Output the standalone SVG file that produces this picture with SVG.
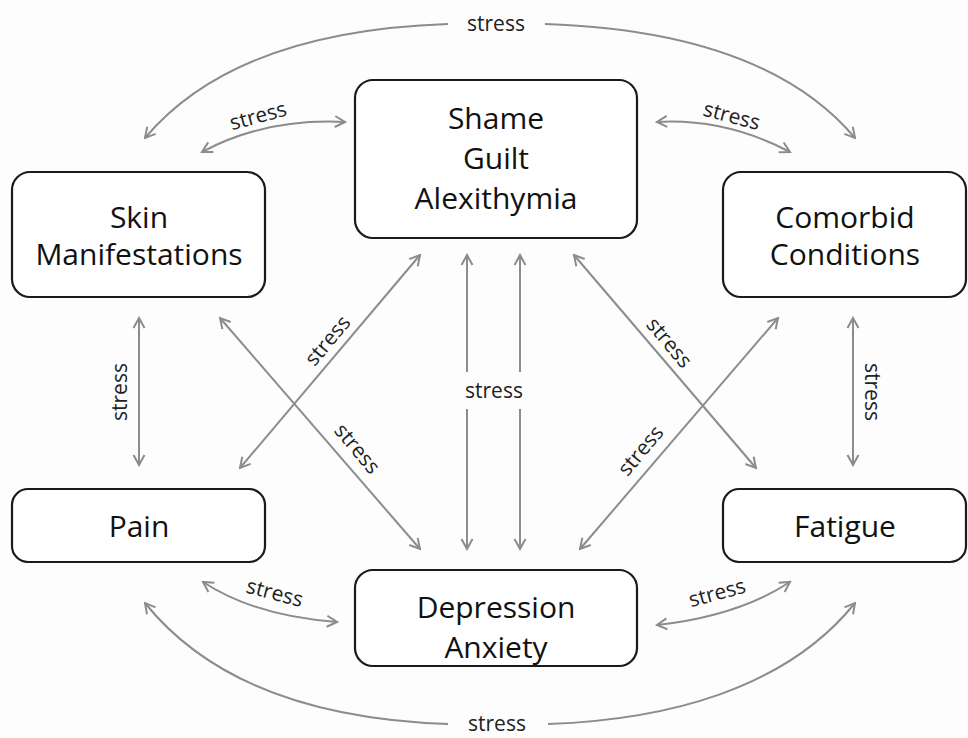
<svg xmlns="http://www.w3.org/2000/svg" width="968" height="738" viewBox="0 0 968 738">
<defs>
<style>
.box{fill:#ffffff;stroke:#1a1a1a;stroke-width:2.2}
.t{font-family:"Open Sans","Liberation Sans",sans-serif;font-size:30px;fill:#111;text-anchor:middle}
.c{fill:none;stroke:#8c8c8c;stroke-width:2}
.l{font-family:"Open Sans","Liberation Sans",sans-serif;font-size:21px;fill:#222;text-anchor:middle;dominant-baseline:central}
</style>
<marker id="ah" viewBox="0 0 14 14" refX="12" refY="7" markerWidth="14" markerHeight="14" markerUnits="userSpaceOnUse" orient="auto-start-reverse">
<path d="M2,1.5 L12,7 L2,12.5" fill="none" stroke="#8c8c8c" stroke-width="2"/>
</marker>
</defs>
<rect width="968" height="738" fill="#fdfdfd"/>
<g id="connectors">
<path class="c" d="M145,138 C215,55 330,28 448,24" marker-start="url(#ah)"/>
<path class="c" d="M545,24 C665,28 785,55 855,138" marker-end="url(#ah)"/>
<text class="l" x="496" y="23">stress</text>
<path class="c" d="M145,603 C215,690 330,720 448,724" marker-start="url(#ah)"/>
<path class="c" d="M548,724 C665,720 785,690 855,603" marker-end="url(#ah)"/>
<text class="l" x="497" y="723">stress</text>
<path class="c" d="M202,152 Q265,118 345,122" marker-start="url(#ah)" marker-end="url(#ah)"/>
<text class="l" x="258" y="115" transform="rotate(-15 258 115)">stress</text>
<path class="c" d="M657,122 Q725,118 790,152" marker-start="url(#ah)" marker-end="url(#ah)"/>
<text class="l" x="732" y="115" transform="rotate(15 732 115)">stress</text>
<path class="c" d="M203,582 Q255,616 337,622" marker-start="url(#ah)" marker-end="url(#ah)"/>
<text class="l" x="275" y="592" transform="rotate(15 275 592)">stress</text>
<path class="c" d="M657,625 Q738,616 790,582" marker-start="url(#ah)" marker-end="url(#ah)"/>
<text class="l" x="717" y="592" transform="rotate(-15 717 592)">stress</text>
<line class="c" x1="139" y1="318" x2="139" y2="465" marker-start="url(#ah)" marker-end="url(#ah)"/>
<text class="l" x="119" y="392" transform="rotate(-90 119 392)">stress</text>
<line class="c" x1="853" y1="318" x2="853" y2="465" marker-start="url(#ah)" marker-end="url(#ah)"/>
<text class="l" x="873" y="392" transform="rotate(90 873 392)">stress</text>
<line class="c" x1="467" y1="255" x2="467" y2="372" marker-start="url(#ah)"/>
<line class="c" x1="467" y1="409" x2="467" y2="549" marker-end="url(#ah)"/>
<line class="c" x1="520" y1="255" x2="520" y2="372" marker-start="url(#ah)"/>
<line class="c" x1="520" y1="409" x2="520" y2="549" marker-end="url(#ah)"/>
<text class="l" x="494" y="390">stress</text>
<line class="c" x1="420" y1="255" x2="240" y2="468" marker-start="url(#ah)" marker-end="url(#ah)"/>
<text class="l" x="327" y="340" transform="rotate(-50 327 340)">stress</text>
<line class="c" x1="220" y1="318" x2="420" y2="549" marker-start="url(#ah)" marker-end="url(#ah)"/>
<text class="l" x="358" y="448" transform="rotate(50 358 448)">stress</text>
<line class="c" x1="574" y1="255" x2="756" y2="468" marker-start="url(#ah)" marker-end="url(#ah)"/>
<text class="l" x="670" y="342" transform="rotate(50 670 342)">stress</text>
<line class="c" x1="778" y1="318" x2="580" y2="549" marker-start="url(#ah)" marker-end="url(#ah)"/>
<text class="l" x="640" y="450" transform="rotate(-50 640 450)">stress</text>
</g>
<g id="shame">
<rect class="box" x="355" y="80" width="282" height="158" rx="18"/>
<text class="t" x="496" y="129">Shame</text>
<text class="t" x="496" y="169">Guilt</text>
<text class="t" x="496" y="209">Alexithymia</text>
</g>
<g id="skin">
<rect class="box" x="12" y="172" width="253" height="125" rx="18"/>
<text class="t" x="139" y="228">Skin</text>
<text class="t" x="139" y="265">Manifestations</text>
</g>
<g id="comorbid">
<rect class="box" x="723" y="172" width="243" height="125" rx="18"/>
<text class="t" x="845" y="228">Comorbid</text>
<text class="t" x="845" y="265">Conditions</text>
</g>
<g id="pain">
<rect class="box" x="12" y="489" width="253" height="73" rx="16"/>
<text class="t" x="139" y="537">Pain</text>
</g>
<g id="fatigue">
<rect class="box" x="723" y="489" width="243" height="73" rx="16"/>
<text class="t" x="845" y="537">Fatigue</text>
</g>
<g id="depression">
<rect class="box" x="355" y="570" width="282" height="96" rx="18"/>
<text class="t" x="496" y="618">Depression</text>
<text class="t" x="496" y="658">Anxiety</text>
</g>
</svg>
